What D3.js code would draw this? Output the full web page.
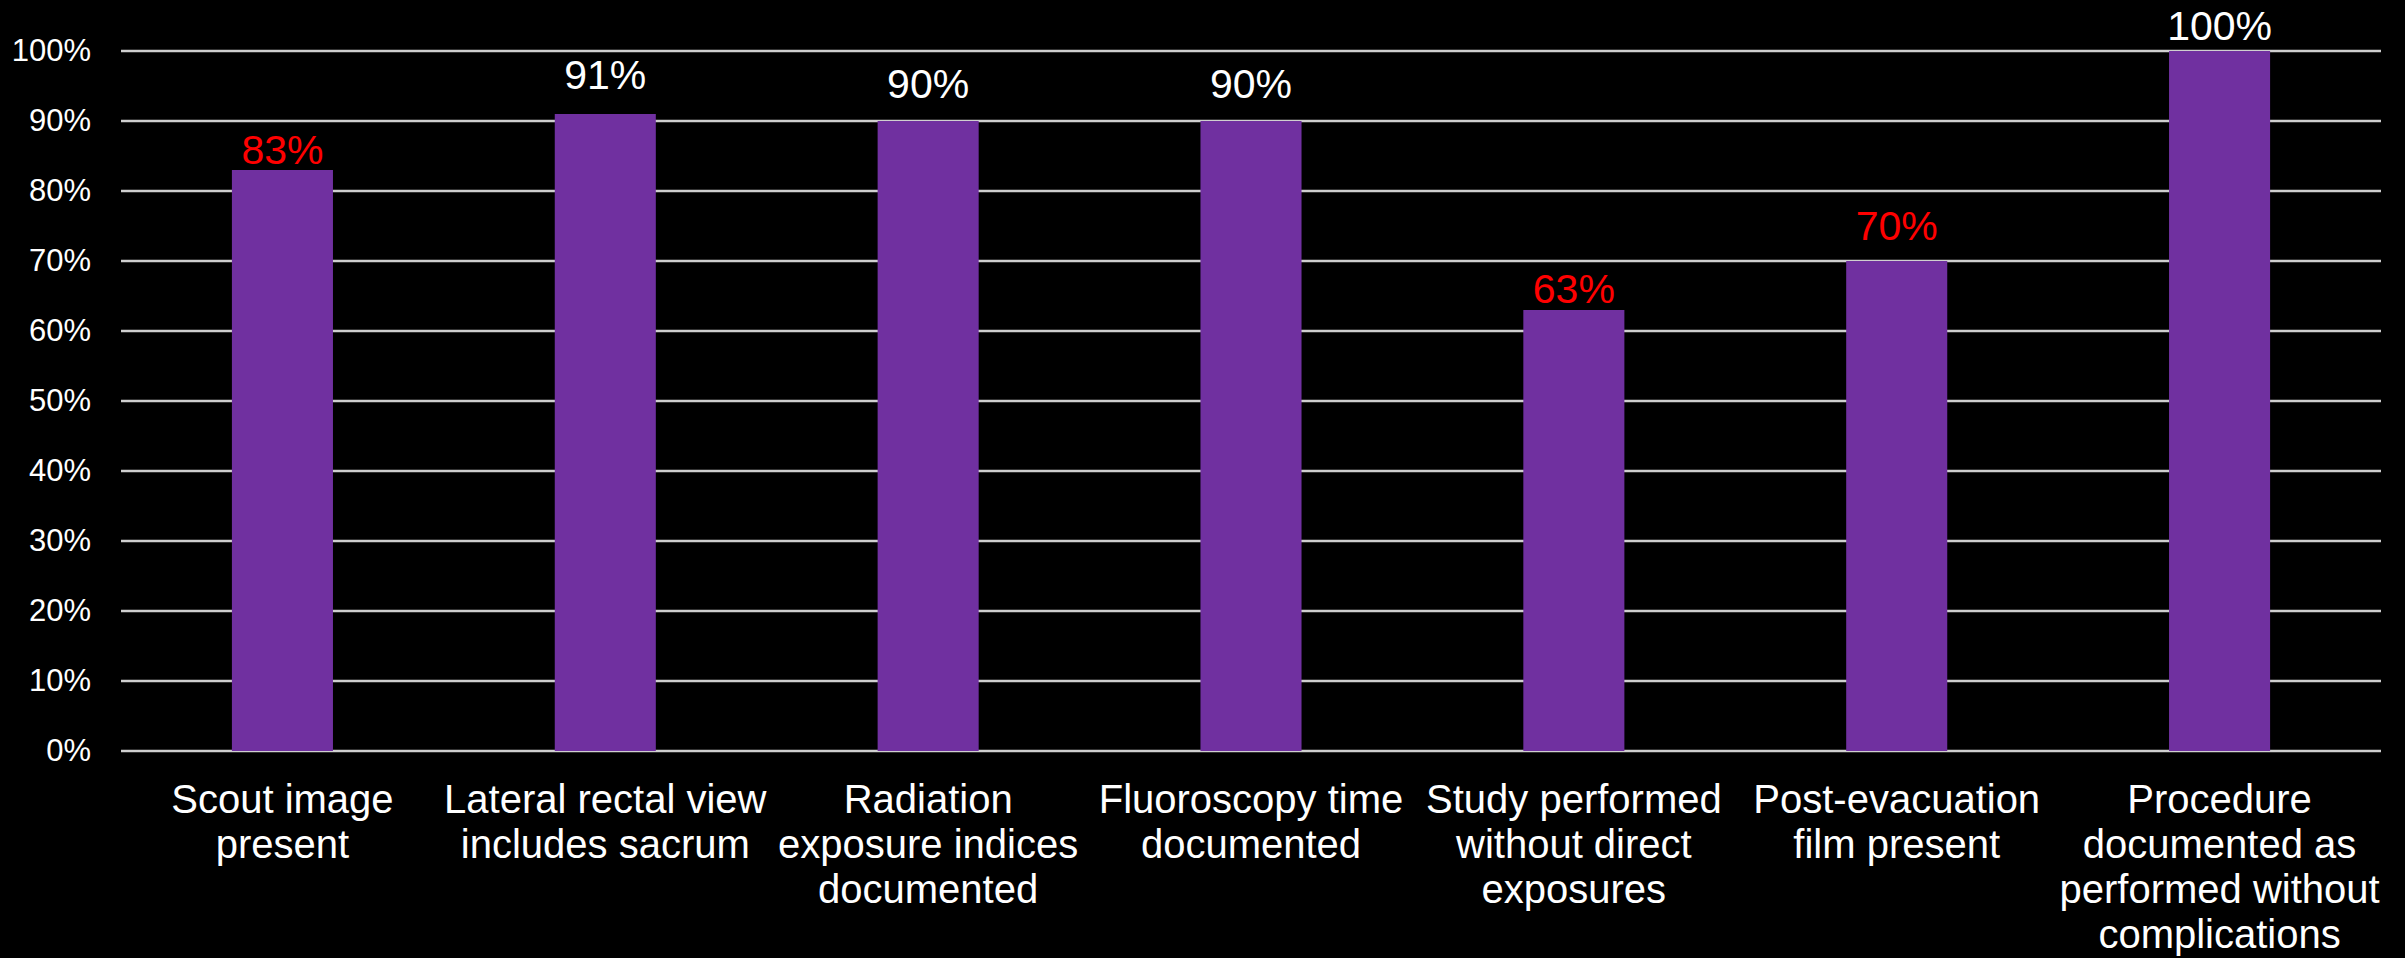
<!DOCTYPE html>
<html>
<head>
<meta charset="utf-8">
<script src="https://cdn.jsdelivr.net/npm/d3@7/dist/d3.min.js"></script>
<style>
  html, body { margin: 0; padding: 0; background: #000; overflow: hidden; }
  svg { display: block; }
  text { font-family: "Liberation Sans", Arial, sans-serif; }
</style>
</head>
<body>
<svg id="chart"></svg>
<script>
// Quality metrics: share of studies meeting each criterion
const categories = [
  "Scout image present",
  "Lateral rectal view includes sacrum",
  "Radiation exposure indices documented",
  "Fluoroscopy time documented",
  "Study performed without direct exposures",
  "Post-evacuation film present",
  "Procedure documented as performed without complications"
];
const categoryLines = [
  ["Scout image", "present"],
  ["Lateral rectal view", "includes sacrum"],
  ["Radiation", "exposure indices", "documented"],
  ["Fluoroscopy time", "documented"],
  ["Study performed", "without direct", "exposures"],
  ["Post-evacuation", "film present"],
  ["Procedure", "documented as", "performed without", "complications"]
];
const values = [83, 91, 90, 90, 63, 70, 100];
const labelColors = ["#FF0000", "#FFFFFF", "#FFFFFF", "#FFFFFF", "#FF0000", "#FF0000", "#FFFFFF"];
const yTicks = [0, 10, 20, 30, 40, 50, 60, 70, 80, 90, 100];

// gap (px) between each value label's baseline and the top of its bar
const labelLift = [6, 25, 23, 23, 7, 21, 11];

const W = 2405, H = 958;
const margin = { left: 121, right: 24, top: 51, bottom: 207 };

const svg = d3.select("#chart").attr("width", W).attr("height", H);

const x = d3.scaleBand()
  .domain(categories)
  .range([margin.left, W - margin.right])
  .paddingInner(0.687)
  .paddingOuter(0.3435);

const y = d3.scaleLinear()
  .domain([0, 100])
  .range([H - margin.bottom, margin.top]);

// horizontal gridlines
svg.append("g")
  .selectAll("line")
  .data(yTicks)
  .join("line")
  .attr("x1", margin.left)
  .attr("x2", W - margin.right)
  .attr("y1", d => y(d))
  .attr("y2", d => y(d))
  .attr("stroke", "#CFCFCF")
  .attr("stroke-width", 2.5);

// y axis labels
const yAxis = d3.axisLeft(y)
  .tickValues(yTicks)
  .tickFormat(d => d + "%")
  .tickSize(0)
  .tickPadding(30);
const gy = svg.append("g")
  .attr("transform", `translate(${margin.left},0)`)
  .call(yAxis);
gy.select(".domain").remove();
gy.selectAll("text")
  .attr("fill", "#FFFFFF")
  .attr("font-size", 31)
  .attr("font-family", "'Liberation Sans', Arial, sans-serif");

// bars
svg.append("g")
  .selectAll("rect")
  .data(values)
  .join("rect")
  .attr("x", (d, i) => x(categories[i]))
  .attr("width", x.bandwidth())
  .attr("y", d => y(d))
  .attr("height", d => y(0) - y(d))
  .attr("fill", "#7030A0");

// value labels
svg.append("g")
  .selectAll("text")
  .data(values)
  .join("text")
  .attr("x", (d, i) => x(categories[i]) + x.bandwidth() / 2)
  .attr("y", (d, i) => y(d) - labelLift[i])
  .attr("text-anchor", "middle")
  .attr("font-size", 41)
  .attr("fill", (d, i) => labelColors[i])
  .text(d => d + "%");

// category labels
const xLabels = svg.append("g")
  .selectAll("text")
  .data(categories)
  .join("text")
  .attr("x", d => x(d) + x.bandwidth() / 2)
  .attr("y", y(0) + 62)
  .attr("text-anchor", "middle")
  .attr("font-size", 40)
  .attr("fill", "#FFFFFF");

xLabels.selectAll("tspan")
  .data((d, i) => categoryLines[i])
  .join("tspan")
  .attr("x", function () { return d3.select(this.parentNode).attr("x"); })
  .attr("dy", (d, j) => j === 0 ? 0 : 45)
  .text(d => d);
</script>
</body>
</html>
